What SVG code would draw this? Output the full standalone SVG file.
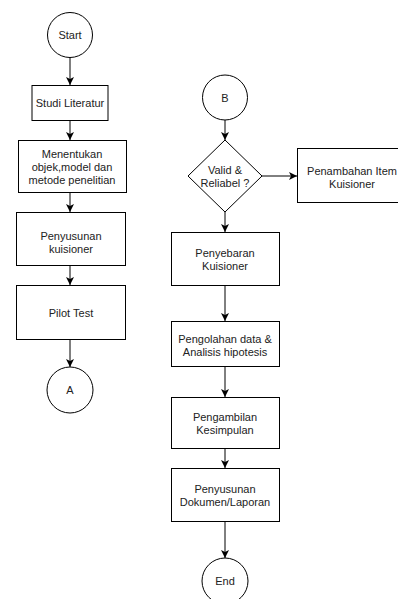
<svg xmlns="http://www.w3.org/2000/svg" width="398" height="599" viewBox="0 0 398 599">
<style>
.shape{fill:#fff;stroke:#000;stroke-width:1}
.t{font-family:"Liberation Sans",Arial,sans-serif;font-size:11px;fill:#222;text-anchor:middle;dominant-baseline:central}
.c{fill:none;stroke:#000;stroke-width:1}
</style>
<defs>
<marker id="arr" markerUnits="userSpaceOnUse" markerWidth="9" markerHeight="9" refX="8" refY="4.5" orient="auto">
<path d="M0,0.5 L8,4.5 L0,8.5 L2,4.5 z" fill="#000"/>
</marker>
</defs>
<rect width="398" height="599" fill="#fff"/>
<g id="connectors">
<line class="c" x1="70" y1="57" x2="70" y2="85" marker-end="url(#arr)"/>
<line class="c" x1="70" y1="121" x2="70" y2="140" marker-end="url(#arr)"/>
<line class="c" x1="70" y1="193" x2="70" y2="212" marker-end="url(#arr)"/>
<line class="c" x1="70" y1="266" x2="70" y2="285" marker-end="url(#arr)"/>
<line class="c" x1="70" y1="340" x2="70" y2="367" marker-end="url(#arr)"/>
<line class="c" x1="225" y1="120" x2="225" y2="140" marker-end="url(#arr)"/>
<line class="c" x1="225" y1="212" x2="225" y2="232" marker-end="url(#arr)"/>
<line class="c" x1="262" y1="176" x2="297" y2="176" marker-end="url(#arr)"/>
<line class="c" x1="225" y1="286" x2="225" y2="321" marker-end="url(#arr)"/>
<line class="c" x1="225" y1="367" x2="225" y2="397" marker-end="url(#arr)"/>
<line class="c" x1="225" y1="449" x2="225" y2="468" marker-end="url(#arr)"/>
<line class="c" x1="225" y1="522" x2="225" y2="558" marker-end="url(#arr)"/>
</g>
<g id="start"><circle class="shape" cx="70" cy="35" r="22.5"/><text class="t" x="70" y="35">Start</text></g>
<g id="studi"><rect class="shape" x="32" y="85.5" width="76" height="35"/><text class="t" x="70" y="103">Studi Literatur</text></g>
<g id="menentukan"><rect class="shape" x="18.5" y="140.5" width="108" height="52"/>
<text class="t" x="72" y="154">Menentukan</text><text class="t" x="72" y="167">objek,model dan</text><text class="t" x="72" y="180">metode penelitian</text></g>
<g id="penyusunan"><rect class="shape" x="16.5" y="212.5" width="109" height="53"/>
<text class="t" x="71" y="236">Penyusunan</text><text class="t" x="71" y="249">kuisioner</text></g>
<g id="pilot"><rect class="shape" x="16.5" y="285.5" width="109" height="54"/><text class="t" x="71" y="313">Pilot Test</text></g>
<g id="a"><circle class="shape" cx="70" cy="390" r="23"/><text class="t" x="70" y="390">A</text></g>
<g id="b"><circle class="shape" cx="225" cy="97.5" r="22.5"/><text class="t" x="225" y="98">B</text></g>
<g id="valid"><polygon class="shape" points="225,140 262,176 225,212 188,176"/>
<text class="t" x="225" y="170">Valid &amp;</text><text class="t" x="225" y="183">Reliabel ?</text></g>
<g id="penambahan"><rect class="shape" x="297.5" y="148.5" width="110" height="54"/>
<text class="t" x="352" y="171">Penambahan Item</text><text class="t" x="352" y="184">Kuisioner</text></g>
<g id="penyebaran"><rect class="shape" x="171.5" y="232.5" width="108" height="53"/>
<text class="t" x="225" y="252.5">Penyebaran</text><text class="t" x="225" y="265.5">Kuisioner</text></g>
<g id="pengolahan"><rect class="shape" x="171.5" y="321.5" width="108" height="45"/>
<text class="t" x="225" y="338.5">Pengolahan data &amp;</text><text class="t" x="225" y="351.5">Analisis hipotesis</text></g>
<g id="pengambilan"><rect class="shape" x="171.5" y="397.5" width="108" height="51"/>
<text class="t" x="225" y="416.5">Pengambilan</text><text class="t" x="225" y="429.5">Kesimpulan</text></g>
<g id="dokumen"><rect class="shape" x="171.5" y="468.5" width="108" height="53"/>
<text class="t" x="225" y="488.5">Penyusunan</text><text class="t" x="225" y="501.5">Dokumen/Laporan</text></g>
<g id="end"><circle class="shape" cx="225" cy="581" r="23"/><text class="t" x="225" y="581">End</text></g>
</svg>
